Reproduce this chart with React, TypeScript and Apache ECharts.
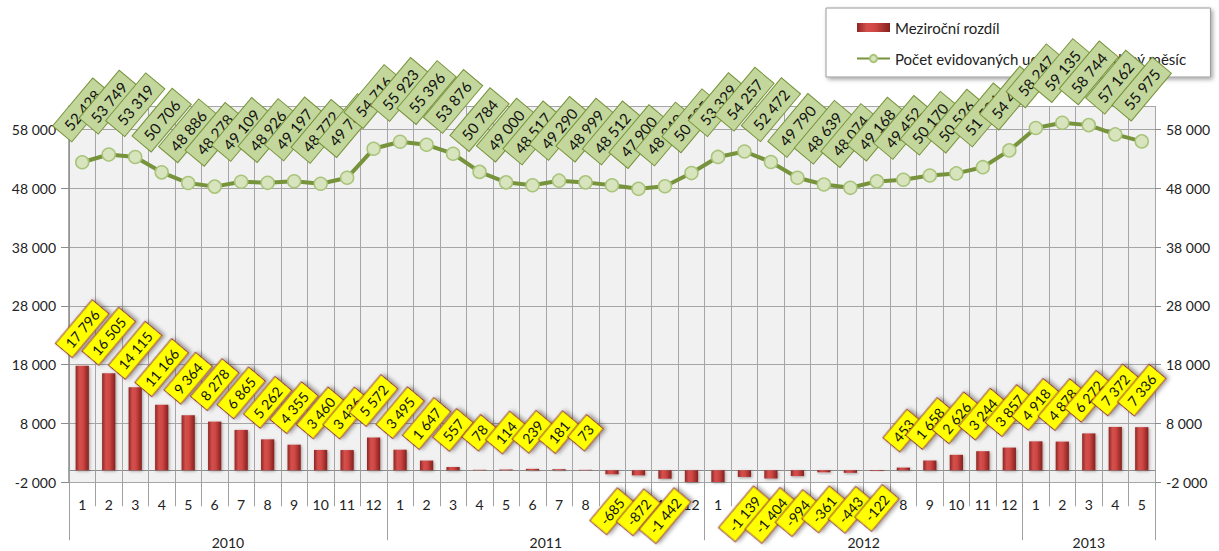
import React, { useEffect, useRef } from "react";
import * as echarts from "echarts";

const years = ["2010", "2011", "2012", "2013"];
const monthsPerYear = [12, 12, 12, 5];
const monthLabels = [
  "1", "2", "3", "4", "5", "6", "7", "8", "9", "10", "11", "12",
  "1", "2", "3", "4", "5", "6", "7", "8", "9", "10", "11", "12",
  "1", "2", "3", "4", "5", "6", "7", "8", "9", "10", "11", "12",
  "1", "2", "3", "4", "5",
];
const diffValues = [
  17796, 16505, 14115, 11166, 9364, 8278, 6865, 5262, 4355, 3460, 3436, 5572,
  3495, 1647, 557, 78, 114, 239, 181, 73, -685, -872, -1442, -4131,
  -2594, -1139, -1404, -994, -361, -443, -122, 453, 1658, 2626, 3244, 3857,
  4918, 4878, 6272, 7372, 7336,
];
const countValues = [
  52428, 53749, 53319, 50706, 48886, 48278, 49109, 48926, 49197, 48772, 49782, 54716,
  55923, 55396, 53876, 50784, 49000, 48517, 49290, 48999, 48512, 47900, 48340, 50585,
  53329, 54257, 52472, 49790, 48639, 48074, 49168, 49452, 50170, 50526, 51584, 54442,
  58247, 59135, 58744, 57162, 55975,
];
const seriesNames = ["Meziroční rozdíl", "Počet evidovaných uchazečů pro daný měsíc"];
const yMin = -2000;
const yMax = 62000;
const yStep = 10000;

const fmt = (v: number) => {
  const s = Math.abs(Math.round(v)).toString().replace(/\B(?=(\d{3})+(?!\d))/g, " ");
  return (v < 0 ? "-" : "") + s;
};

const FONT = "Lato, 'Noto Sans', sans-serif";

export default function App() {
  const ref = useRef<HTMLDivElement>(null);
  useEffect(() => {
    if (!ref.current) return;
    const chart = echarts.init(ref.current, undefined, { renderer: "svg" });

    const boundaries: number[] = [0];
    const centers: number[] = [];
    let acc = 0;
    monthsPerYear.forEach((n) => {
      centers.push(acc + n / 2);
      acc += n;
      boundaries.push(acc);
    });
    const total = acc;

    const barGradient = new echarts.graphic.LinearGradient(0, 0, 1, 0, [
      { offset: 0, color: "#8e2624" },
      { offset: 0.3, color: "#d4504d" },
      { offset: 0.55, color: "#cf4744" },
      { offset: 1, color: "#84201e" },
    ]);

    const yAxisCommon = {
      type: "value" as const,
      min: yMin,
      max: yMax,
      interval: yStep,
      axisLabel: {
        formatter: (v: number) => fmt(v),
        color: "#222",
        fontSize: 14,
        fontFamily: FONT,
        showMaxLabel: false,
      },
    };

    chart.setOption({
      animation: false,
      textStyle: { fontFamily: FONT },
      legend: {
        orient: "vertical",
        left: 826,
        top: 8,
        z: 1,
        padding: [12, 24, 11, 30],
        itemGap: 16,
        itemWidth: 33,
        itemHeight: 9,
        backgroundColor: "#ffffff",
        borderColor: "#9a9a9a",
        borderWidth: 1,
        shadowBlur: 4,
        shadowColor: "rgba(0,0,0,0.35)",
        shadowOffsetX: 2,
        shadowOffsetY: 2,
        textStyle: { fontSize: 15, color: "#222", fontFamily: FONT },
        data: [{ name: seriesNames[0], icon: "rect" }, { name: seriesNames[1] }],
      },
      grid: {
        left: 69,
        right: 64,
        top: 106,
        bottom: 69,
        show: true,
        backgroundColor: "#f1f1f1",
        borderWidth: 0,
      },
      xAxis: [
        {
          type: "category",
          data: monthLabels,
          boundaryGap: true,
          axisLine: { show: true, lineStyle: { color: "#8c8c8c", width: 1 } },
          axisTick: { show: true, interval: 0, length: 36, lineStyle: { color: "#a0a0a0" } },
          axisLabel: { interval: 0, margin: 15, color: "#222", fontSize: 14, fontFamily: FONT },
          splitLine: { show: true, interval: 0, lineStyle: { color: "#a6a6a6", width: 1 } },
        },
        {
          type: "value",
          position: "bottom",
          min: 0,
          max: total,
          axisLine: { show: false },
          splitLine: { show: false },
          axisTick: {
            show: true,
            customValues: boundaries,
            length: 70,
            lineStyle: { color: "#a0a0a0" },
          },
          axisLabel: {
            customValues: centers,
            margin: 53,
            color: "#222",
            fontSize: 14,
            fontFamily: FONT,
            formatter: (v: number) => {
              const i = centers.findIndex((c) => Math.abs(c - v) < 1e-6);
              return i >= 0 ? years[i] : "";
            },
          },
        },
      ],
      yAxis: [
        {
          ...yAxisCommon,
          position: "left",
          axisLine: { show: true, lineStyle: { color: "#8c8c8c", width: 1.5 } },
          axisTick: { show: true, length: 8, lineStyle: { color: "#8c8c8c" } },
          axisLabel: { ...yAxisCommon.axisLabel, margin: 13 },
          splitLine: { show: true, lineStyle: { color: "#a6a6a6", width: 1 } },
        },
        {
          ...yAxisCommon,
          position: "right",
          axisLine: { show: false },
          axisTick: { show: true, length: 6, lineStyle: { color: "#8c8c8c" } },
          axisLabel: { ...yAxisCommon.axisLabel, margin: 11 },
          splitLine: { show: false },
        },
      ],
      series: [
        {
          name: seriesNames[0],
          type: "bar",
          xAxisIndex: 0,
          yAxisIndex: 0,
          barWidth: "50%",
          clip: true,
          itemStyle: {
            color: barGradient,
            shadowBlur: 3,
            shadowColor: "rgba(0,0,0,0.35)",
            shadowOffsetX: 1,
            shadowOffsetY: 1,
          },
          label: {
            show: true,
            rotate: 50,
            distance: 37,
            align: "center",
            verticalAlign: "middle",
            formatter: (p: any) => fmt(p.value),
            color: "#111",
            fontSize: 14,
            fontFamily: FONT,
            backgroundColor: "#ffff00",
            borderColor: "#953735",
            borderWidth: 1,
            padding: [4, 6, 3, 6],
            shadowBlur: 4,
            shadowColor: "rgba(0,0,0,0.4)",
            shadowOffsetX: 2,
            shadowOffsetY: 2,
          },
          data: diffValues.map((v) => ({
            value: v,
            label: { show: v >= yMin, position: v < 0 ? "bottom" : "top" },
          })),
          z: 2,
        },
        {
          name: seriesNames[1],
          type: "line",
          xAxisIndex: 0,
          yAxisIndex: 1,
          data: countValues,
          symbol: "circle",
          symbolSize: 13,
          lineStyle: { color: "#77933c", width: 4 },
          itemStyle: { color: "#d7e4bd", borderColor: "#a9c47a", borderWidth: 1.5 },
          label: {
            show: true,
            position: "top",
            rotate: 50,
            distance: 45,
            align: "center",
            verticalAlign: "middle",
            formatter: (p: any) => fmt(p.value),
            color: "#111",
            fontSize: 15,
            fontFamily: FONT,
            backgroundColor: "#c3d69b",
            borderColor: "#77933c",
            borderWidth: 1,
            padding: [5, 7, 4, 7],
          },
          z: 3,
        },
      ],
    });
    return () => chart.dispose();
  }, []);
  return (
    <div
      ref={ref}
      style={{ position: "fixed", left: 0, top: 0, width: 1219, height: 551, background: "#fff" }}
    />
  );
}
